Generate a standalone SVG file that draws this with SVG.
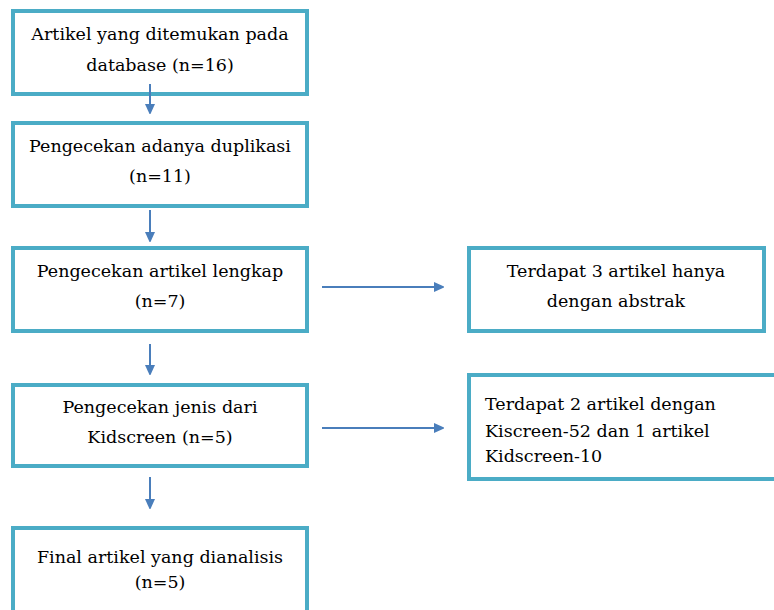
<svg xmlns="http://www.w3.org/2000/svg" width="774" height="610" viewBox="0 0 774 610">
<defs>
<marker id="ah" markerWidth="10" markerHeight="10" refX="0" refY="5" orient="auto" markerUnits="userSpaceOnUse">
<path d="M0,0 L11,5 L0,10 Z" fill="#4A7EBB"/>
</marker>
<style>
.box{fill:#fff;stroke:#4BACC6;stroke-width:4}
.c{stroke:#4A7EBB;stroke-width:2;fill:none}
</style>
</defs>
<rect width="774" height="610" fill="#fff"/>
<g font-family="'DejaVu Serif', serif" font-size="17.5" fill="#000" text-anchor="middle">
<g id="n1"><rect class="box" x="13" y="11" width="294" height="83"/>
<text x="160" y="40">Artikel yang ditemukan pada</text>
<text x="160" y="71">database (n=16)</text></g>
<g id="n2"><rect class="box" x="13" y="123" width="294" height="83"/>
<text x="160" y="152">Pengecekan adanya duplikasi</text>
<text x="160" y="182">(n=11)</text></g>
<g id="n3"><rect class="box" x="13" y="248" width="294" height="83"/>
<text x="160" y="277">Pengecekan artikel lengkap</text>
<text x="160" y="307">(n=7)</text></g>
<g id="n4"><rect class="box" x="13" y="385" width="294" height="81"/>
<text x="160" y="413">Pengecekan jenis dari</text>
<text x="160" y="443">Kidscreen (n=5)</text></g>
<g id="n5"><rect class="box" x="13" y="528" width="294" height="100"/>
<text x="160" y="563">Final artikel yang dianalisis</text>
<text x="160" y="588">(n=5)</text></g>
<g id="n6"><rect class="box" x="469" y="248" width="295" height="83"/>
<text x="616" y="277">Terdapat 3 artikel hanya</text>
<text x="616" y="307">dengan abstrak</text></g>
<g id="n7"><rect class="box" x="469" y="375" width="320" height="104"/>
<text x="485" y="410" text-anchor="start">Terdapat 2 artikel dengan</text>
<text x="485" y="437" text-anchor="start">Kiscreen-52 dan 1 artikel</text>
<text x="485" y="462" text-anchor="start">Kidscreen-10</text></g>
</g>
<g id="connectors">
<line class="c" x1="150" y1="84" x2="150" y2="104" marker-end="url(#ah)"/>
<line class="c" x1="150" y1="210" x2="150" y2="232" marker-end="url(#ah)"/>
<line class="c" x1="150" y1="344" x2="150" y2="365" marker-end="url(#ah)"/>
<line class="c" x1="150" y1="477" x2="150" y2="499" marker-end="url(#ah)"/>
<line class="c" x1="322" y1="287" x2="434" y2="287" marker-end="url(#ah)"/>
<line class="c" x1="322" y1="428" x2="434" y2="428" marker-end="url(#ah)"/>
</g>
</svg>
